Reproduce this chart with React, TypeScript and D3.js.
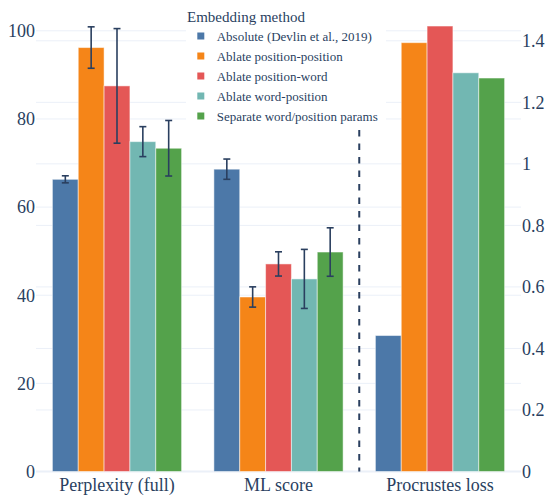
import React from "react";
import * as d3 from "d3";

const categories = ["Perplexity (full)", "ML score", "Procrustes loss"];
const seriesNames = [
  "Absolute (Devlin et al., 2019)",
  "Ablate position-position",
  "Ablate position-word",
  "Ablate word-position",
  "Separate word/position params",
];
const seriesColors = ["#4C78A8", "#F58518", "#E45756", "#72B7B2", "#54A24B"];

// values per series: [perplexity, ML score, procrustes loss]
const perplexityValues = [66.3, 96.2, 87.5, 74.85, 73.35];
const perplexityErrors = [0.8, 4.7, 13.0, 3.4, 6.3];
const mlScoreValues = [68.6, 39.6, 47.1, 43.7, 49.8];
const mlScoreErrors = [2.3, 2.3, 2.75, 6.7, 5.5];
const procrustesValues = [0.442, 1.394, 1.448, 1.296, 1.279];

const leftTicks = [0, 20, 40, 60, 80, 100];
const rightTicks = [0, 0.2, 0.4, 0.6, 0.8, 1, 1.2, 1.4];

const W = 546;
const H = 495;
const TEXT = "#2a3f5f";
const GRID = "#EBF0F8";
const FONT = "Liberation Serif, Times New Roman, DejaVu Serif, serif";
const ts = { fontFamily: FONT };

export default function App() {
  const x0 = d3.scaleBand<string>().domain(categories).range([36.25, 520.75]).paddingInner(0.2).paddingOuter(0.1);
  const x1 = d3.scaleBand<string>().domain(seriesNames).range([0, x0.bandwidth()]);
  const yL = d3.scaleLinear().domain([0, 100]).range([471.5, 30.8]);
  const yR = d3.scaleLinear().domain([0, 1.4]).range([471.5, 40.8]);

  const bars: any[] = [];
  seriesNames.forEach((s, i) => {
    const entries = [
      { cat: categories[0], v: perplexityValues[i], e: perplexityErrors[i], y: yL },
      { cat: categories[1], v: mlScoreValues[i], e: mlScoreErrors[i], y: yL },
      { cat: categories[2], v: procrustesValues[i], e: null, y: yR },
    ];
    entries.forEach((d) => bars.push({ ...d, s, i }));
  });

  const fmtR = (t: number) => String(+t.toFixed(1));
  const sepX = (x0(categories[1])! + x0.bandwidth() + x0(categories[2])!) / 2;
  const plotLeft = 36;
  const plotRight = 521;

  return (
    <svg width={W} height={H} style={{ position: "absolute", left: 0, top: 0, background: "#fff", fontFamily: FONT }}>
      {/* gridlines */}
      {leftTicks.map((t) => (
        <line key={"gl" + t} x1={plotLeft} x2={plotRight} y1={yL(t)} y2={yL(t)} stroke={GRID} strokeWidth={t === 0 ? 2 : 1} />
      ))}
      {rightTicks.filter((t) => t !== 0).map((t) => (
        <line key={"gr" + t} x1={plotLeft} x2={plotRight} y1={yR(t)} y2={yR(t)} stroke={GRID} strokeWidth={1} />
      ))}
      {/* bars */}
      {bars.map((d, k) => {
        const x = x0(d.cat)! + x1(d.s)!;
        const yTop = d.y(d.v);
        return (
          <rect key={"b" + k} x={x} y={yTop} width={x1.bandwidth()} height={d.y(0) - yTop}
            fill={seriesColors[d.i]} stroke="#fff" strokeOpacity={0.5} strokeWidth={1} />
        );
      })}
      {/* error bars */}
      {bars.filter((d) => d.e != null).map((d, k) => {
        const cx = x0(d.cat)! + x1(d.s)! + x1.bandwidth() / 2;
        const yHi = d.y(d.v + d.e);
        const yLo = d.y(d.v - d.e);
        return (
          <g key={"e" + k} stroke={TEXT} strokeWidth={1.6}>
            <line x1={cx} x2={cx} y1={yHi} y2={yLo} />
            <line x1={cx - 3.5} x2={cx + 3.5} y1={yHi} y2={yHi} />
            <line x1={cx - 3.5} x2={cx + 3.5} y1={yLo} y2={yLo} />
          </g>
        );
      })}
      {/* separator */}
      <line x1={sepX} x2={sepX} y1={130} y2={471.5} stroke={TEXT} strokeWidth={2} strokeDasharray="6.5,7" />
      {/* left ticks */}
      {leftTicks.map((t) => (
        <text key={"tl" + t} x={35} y={yL(t)} dy="0.35em" textAnchor="end" fontSize={18} fill={TEXT} style={ts}>{t}</text>
      ))}
      {rightTicks.map((t) => (
        <text key={"tr" + t} x={522} y={yR(t)} dy="0.35em" textAnchor="start" fontSize={18} fill={TEXT} style={ts}>{fmtR(t)}</text>
      ))}
      {categories.map((c) => (
        <text key={"c" + c} x={x0(c)! + x0.bandwidth() / 2} y={491} textAnchor="middle" fontSize={18} fill={TEXT} style={ts}>{c}</text>
      ))}
      {/* legend */}
      <rect x={186} y={4} width={200} height={124} fill="#fff" />
      <text x={187} y={22} fontSize={15} fill={TEXT} style={ts}>Embedding method</text>
      {seriesNames.map((s, i) => (
        <g key={"lg" + i}>
          <rect x={197.3} y={32.5 + i * 20} width={7} height={7} fill={seriesColors[i]} />
          <text x={216.7} y={40.5 + i * 20} fontSize={13} fill={TEXT} style={ts}>{s}</text>
        </g>
      ))}
    </svg>
  );
}
